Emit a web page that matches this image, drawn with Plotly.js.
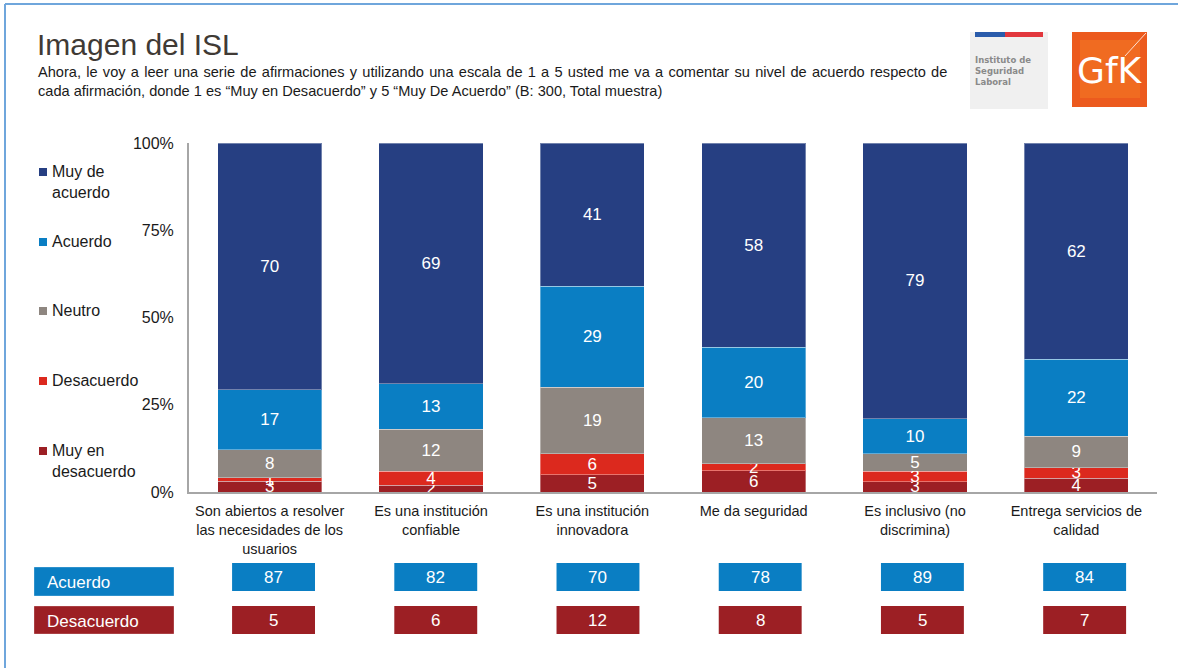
<!DOCTYPE html>
<html>
<head>
<meta charset="utf-8">
<script src="https://cdn.plot.ly/plotly-3.0.1.min.js"></script>
<style>
  html, body { margin: 0; padding: 0; background: #ffffff; }
  #chart { width: 1178px; height: 668px; }
</style>
</head>
<body>
<div id="chart"></div>
<script>
// ---------- data ----------
const categories = [
  "Son abiertos a resolver<br>las necesidades de los<br>usuarios",
  "Es una institución<br>confiable",
  "Es una institución<br>innovadora",
  "Me da seguridad",
  "Es inclusivo (no<br>discrimina)",
  "Entrega servicios de<br>calidad"
];
const seriesNames = ["Muy en desacuerdo", "Desacuerdo", "Neutro", "Acuerdo", "Muy de acuerdo"];
const legendLabels = ["Muy en<br>desacuerdo", "Desacuerdo", "Neutro", "Acuerdo", "Muy de<br>acuerdo"];
const muyEnDesacuerdo = [3, 2, 5, 6, 3, 4];
const desacuerdo      = [1, 4, 6, 2, 3, 3];
const neutro          = [8, 12, 19, 13, 5, 9];
const acuerdo         = [17, 13, 29, 20, 10, 22];
const muyDeAcuerdo    = [70, 69, 41, 58, 79, 62];
const totalAcuerdo    = [87, 82, 70, 78, 89, 84];
const totalDesacuerdo = [5, 6, 12, 8, 5, 7];
const yTickVals = [0, 25, 50, 75, 100];
const yTickText = ["0%", "25%", "50%", "75%", "100%"];

// ---------- styling / layout geometry ----------
const W = 1178, H = 668;
const M = { l: 189, r: 21, t: 143, b: 176 };
const PW = W - M.l - M.r, PH = H - M.t - M.b;
const px = p => (p - M.l) / PW;          // pixel x -> paper x
const py = p => (H - M.b - p) / PH;      // pixel y -> paper y

const colors = ["#9c1f24", "#dc291e", "#8e8680", "#0a7ec3", "#263f82"];
const seriesData = [muyEnDesacuerdo, desacuerdo, neutro, acuerdo, muyDeAcuerdo];
const FONT = "Liberation Sans, Arial, sans-serif";

const traces = seriesData.map((vals, i) => ({
  type: "bar",
  name: seriesNames[i],
  x: categories,
  y: vals,
  text: vals.map(String),
  texttemplate: "%{text}",
  textposition: "inside",
  insidetextanchor: "middle",
  constraintext: "none",
  textangle: 0,
  textfont: { family: FONT, size: 17, color: "#ffffff" },
  marker: { color: colors[i], line: { color: "rgba(255,255,255,0.35)", width: 1 } },
  width: 0.645,
  hoverinfo: "name+y",
  showlegend: false
}));

const shapes = [];
const annotations = [];

// frame lines
shapes.push({ type: "line", xref: "paper", yref: "paper", x0: px(5), x1: px(1178), y0: py(4), y1: py(4),
  line: { color: "#6fa6dc", width: 2 } });
shapes.push({ type: "line", xref: "paper", yref: "paper", x0: px(5), x1: px(5), y0: py(4), y1: py(668),
  line: { color: "#6fa6dc", width: 2 } });

// subtitle (first line justified in the original -> small word spacing)
annotations.push({
  xref: "paper", yref: "paper", x: px(37), y: py(82), xanchor: "left", yanchor: "middle", align: "left",
  showarrow: false, borderpad: 0,
  text: "<span style=\"word-spacing:1.2px\">Ahora, le voy a leer una serie de afirmaciones y utilizando una escala de 1 a 5 usted me va a comentar su nivel de acuerdo respecto de</span><br>cada afirmación, donde 1 es “Muy en Desacuerdo” y 5 “Muy De Acuerdo” (B: 300, Total muestra)",
  font: { family: FONT, size: 14.6, color: "#1a1a1a" }
});

// ISL logo
shapes.push({ type: "rect", xref: "paper", yref: "paper", x0: px(970), x1: px(1048), y0: py(32), y1: py(109),
  fillcolor: "#f0f0f0", line: { width: 0 } });
shapes.push({ type: "rect", xref: "paper", yref: "paper", x0: px(975), x1: px(1005), y0: py(32), y1: py(37),
  fillcolor: "#2a5cab", line: { width: 0 } });
shapes.push({ type: "rect", xref: "paper", yref: "paper", x0: px(1005), x1: px(1043), y0: py(32), y1: py(37),
  fillcolor: "#e2373d", line: { width: 0 } });
annotations.push({
  xref: "paper", yref: "paper", x: px(974), y: py(71), xanchor: "left", yanchor: "middle", align: "left",
  showarrow: false, borderpad: 0, text: "<b>Instituto de<br>Seguridad<br>Laboral</b>",
  font: { family: "DejaVu Sans, sans-serif", size: 8.5, color: "#8a8a8a" }
});
// GfK logo
shapes.push({ type: "rect", xref: "paper", yref: "paper", x0: px(1072), x1: px(1147), y0: py(32), y1: py(107),
  fillcolor: "#ec5a1e", line: { width: 0 } });
shapes.push({ type: "rect", xref: "paper", yref: "paper", x0: px(1080), x1: px(1140), y0: py(40), y1: py(98),
  fillcolor: "rgba(250,140,40,0.35)", line: { width: 0 } });
shapes.push({ type: "line", xref: "paper", yref: "paper", x0: px(1125), x1: px(1146), y0: py(56), y1: py(33),
  line: { color: "rgba(255,255,255,0.8)", width: 1 } });
annotations.push({
  xref: "paper", yref: "paper", x: px(1110), y: py(71), xanchor: "center", yanchor: "middle",
  showarrow: false, text: "GfK",
  font: { family: "DejaVu Sans, sans-serif", size: 36, color: "#ffffff" }
});

// legend (left side, top to bottom: reversed series order)
const legendY = [172, 242, 311, 381, 451]; // first-line centre
for (let k = 0; k < 5; k++) {
  const i = 4 - k;
  const yc = legendY[k];
  shapes.push({ type: "rect", xref: "paper", yref: "paper", x0: px(39), x1: px(47), y0: py(yc - 4), y1: py(yc + 4),
    fillcolor: colors[i], line: { width: 0 } });
  annotations.push({
    xref: "paper", yref: "paper", x: px(51), y: py(yc - 10.5), xanchor: "left", yanchor: "top", align: "left",
    showarrow: false, text: legendLabels[i], borderpad: 0,
    font: { family: FONT, size: 16, color: "#1a1a1a" }
  });
}

// summary table
const rows = [
  { label: "Acuerdo", vals: totalAcuerdo, color: "#0a7ec3", lab: [567, 596], box: [563, 591] },
  { label: "Desacuerdo", vals: totalDesacuerdo, color: "#9c1f24", lab: [606, 634], box: [606, 634] }
];
rows.forEach(r => {
  shapes.push({ type: "rect", xref: "paper", yref: "paper", x0: px(34), x1: px(174), y0: py(r.lab[0]), y1: py(r.lab[1]),
    fillcolor: r.color, line: { width: 1, color: "rgba(255,255,255,0.3)" } });
  annotations.push({
    xref: "paper", yref: "paper", x: px(45), y: py((r.lab[0] + r.lab[1]) / 2 + 1), xanchor: "left", yanchor: "middle",
    showarrow: false, text: r.label, font: { family: FONT, size: 17, color: "#ffffff" }
  });
  r.vals.forEach((v, j) => {
    const xc = j + 0.024 + 0.0055 * j;
    shapes.push({ type: "rect", xref: "x", yref: "paper", x0: xc - 0.257, x1: xc + 0.257, y0: py(r.box[0]), y1: py(r.box[1]),
      fillcolor: r.color, line: { width: 0 } });
    annotations.push({
      xref: "x", yref: "paper", x: xc, y: py((r.box[0] + r.box[1]) / 2), xanchor: "center", yanchor: "middle",
      showarrow: false, text: String(v), font: { family: FONT, size: 17, color: "#ffffff" }
    });
  });
});

const layout = {
  width: W, height: H,
  margin: M,
  paper_bgcolor: "#ffffff", plot_bgcolor: "#ffffff",
  font: { family: FONT, color: "#1a1a1a" },
  title: {
    text: "Imagen del ISL",
    xref: "container", yref: "container",
    x: 37 / W, y: 1 - 44 / H, xanchor: "left", yanchor: "middle",
    font: { family: FONT, size: 30, color: "#403a35" }
  },
  barmode: "stack",
  barnorm: "percent",
  showlegend: false,
  xaxis: {
    type: "category",
    range: [-0.5, 5.5],
    showline: true, linecolor: "#a6a6a6", linewidth: 2,
    showgrid: false, zeroline: false, ticks: "",
    ticklabelstandoff: 5,
    tickfont: { family: FONT, size: 14.5, color: "#1a1a1a" },
    fixedrange: true
  },
  yaxis: {
    range: [0, 100],
    tickvals: yTickVals, ticktext: yTickText,
    showline: true, linecolor: "#a6a6a6", linewidth: 2,
    showgrid: false, zeroline: false, ticks: "",
    ticklabelstandoff: 10,
    tickfont: { family: FONT, size: 16, color: "#1a1a1a" },
    fixedrange: true
  },
  shapes: shapes,
  annotations: annotations
};

Plotly.newPlot("chart", traces, layout, { displayModeBar: false, staticPlot: true });
</script>
</body>
</html>
